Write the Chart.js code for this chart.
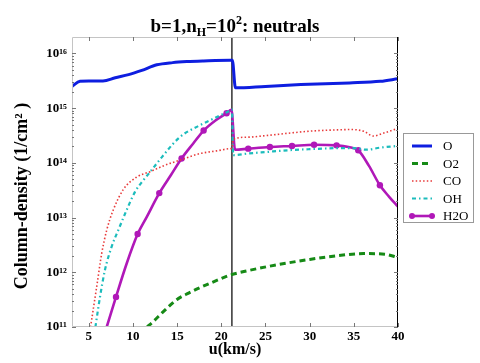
<!DOCTYPE html>
<html>
<head>
<meta charset="utf-8">
<script src="https://cdn.jsdelivr.net/npm/chart.js@4.4.0/dist/chart.umd.min.js"></script>
<style>
  html, body { margin: 0; padding: 0; background: #fff; }
</style>
</head>
<body>
<canvas id="chart" width="480" height="363"></canvas>
<script>
// shock velocity u (km/s) and column densities (1/cm^2)
const uO = [3.1, 4.0, 5.0, 6.6, 8.0, 9.5, 11.0, 12.7, 14.5, 16.1, 18.0, 21.0, 21.25, 21.6, 25, 29, 34.5, 38, 40];
const nO = [2.5e15, 3.1e15, 3.15e15, 3.15e15, 3.6e15, 4.1e15, 4.9e15, 6.2e15, 6.8e15, 7.1e15, 7.3e15, 7.5e15, 7.5e15, 2.35e15, 2.5e15, 2.7e15, 2.9e15, 3.1e15, 3.45e15];

const uO2 = [11.6, 12.3, 13.5, 14.95, 16.3, 17.6, 19.3, 21.0, 23.0, 25.1, 27.5, 30, 33, 36.1, 38.5, 40];
const nO2 = [1.0e11, 1.26e11, 1.95e11, 3.16e11, 4.17e11, 5.25e11, 6.9e11, 8.9e11, 1.07e12, 1.26e12, 1.48e12, 1.72e12, 2.0e12, 2.2e12, 2.14e12, 1.86e12];

const uCO = [5.2, 5.9, 6.46, 7.03, 7.77, 8.9, 10.42, 11.93, 13.5, 15.3, 17.6, 19.5, 21.0, 21.2, 21.35, 23, 25.1, 27.5, 30, 32.5, 34.6, 36.1, 37.2, 38.5, 40];
const nCO = [1.0e11, 5.5e11, 2.2e12, 5.9e12, 1.38e13, 3.24e13, 5.5e13, 6.9e13, 8.9e13, 1.12e14, 1.48e14, 1.66e14, 1.82e14, 1.86e14, 2.7e14, 2.95e14, 3.16e14, 3.47e14, 3.8e14, 3.98e14, 4.07e14, 3.8e14, 3.1e14, 3.55e14, 4.27e14];

const uOH = [5.75, 6.27, 6.83, 7.59, 8.34, 9.29, 10.23, 11.17, 11.93, 12.7, 15.3, 17.6, 19.5, 21.0, 21.2, 21.35, 23, 25.1, 27.5, 30, 33.4, 35, 36.4, 38, 40];
const nOH = [1.0e11, 3.55e11, 1.1e12, 2.95e12, 5.9e12, 1.38e13, 2.95e13, 4.8e13, 6.8e13, 9.8e13, 2.95e14, 4.9e14, 6.9e14, 9.1e14, 9.5e14, 1.38e14, 1.48e14, 1.58e14, 1.7e14, 1.78e14, 1.86e14, 1.86e14, 1.74e14, 1.9e14, 2.04e14];

const uH2O = [7.03, 8.08, 9.29, 10.53, 11.55, 12.98, 14.3, 15.5, 16.8, 18.0, 19.3, 20.6, 21.15, 21.55, 23.05, 25.5, 28.0, 30.5, 33.05, 34.4, 35.5, 36.7, 37.95, 39, 40];
const nH2O = [1.0e11, 3.55e11, 1.45e12, 5.0e12, 1.02e13, 2.8e13, 6.0e13, 1.2e14, 2.24e14, 3.9e14, 5.9e14, 8.1e14, 9.3e14, 1.74e14, 1.82e14, 1.95e14, 2.04e14, 2.14e14, 2.09e14, 1.95e14, 1.7e14, 8.9e13, 3.9e13, 2.4e13, 1.58e13];
const markH2O = [0, 1, 0, 1, 0, 1, 0, 1, 0, 1, 0, 1, 0, 0, 1, 1, 1, 1, 1, 0, 1, 0, 1, 0, 0]; // sampled points with markers

const shockU = 21.2;
const xMin = 3.1, xMax = 40;
const yMin = 1e11, yMax = 2e16;
const xTicks = [5, 10, 15, 20, 25, 30, 35, 40];
const yDecades = [11, 12, 13, 14, 15, 16];

const SERIF = '"Liberation Serif", "DejaVu Serif", serif';
const SUP = { '0': '⁰', '1': '¹', '2': '²', '3': '³', '4': '⁴', '5': '⁵', '6': '⁶', '7': '⁷', '8': '⁸', '9': '⁹' };
const toSup = s => String(s).split('').map(c => SUP[c]).join('');

const pts = (xs, ys) => xs.map((x, i) => ({ x: x, y: ys[i] }));

const datasets = [
  { label: 'O', data: pts(uO, nO), borderColor: '#0e1ee0', borderWidth: 3, pointRadius: 0 },
  { label: 'O2', data: pts(uO2, nO2), borderColor: '#168a16', borderWidth: 3, borderDash: [6, 4], pointRadius: 0 },
  { label: 'CO', data: pts(uCO, nCO), borderColor: '#e83a3a', borderWidth: 1.6, borderDash: [1.5, 2.2], pointRadius: 0 },
  { label: 'OH', data: pts(uOH, nOH), borderColor: '#1cbcbc', borderWidth: 2.2, borderDash: [4, 3, 1.5, 3], pointRadius: 0 },
  {
    label: 'H2O', data: pts(uH2O, nH2O), borderColor: '#b018b8', backgroundColor: '#b018b8',
    borderWidth: 2.6, pointRadius: markH2O.map(m => m ? 3.2 : 0), pointBorderWidth: 0
  },
  // the shock position marker
  { label: '', data: [{ x: shockU, y: yMin }, { x: shockU, y: yMax }], borderColor: '#111', borderWidth: 1.3, pointRadius: 0, tension: 0, cubicInterpolationMode: 'default' }
];

const decor = {
  id: 'decor',
  afterDraw(chart) {
    const ctx = chart.ctx;
    const a = chart.chartArea;
    const xs = chart.scales.x, ys = chart.scales.y;
    ctx.save();

    // frame
    ctx.lineWidth = 1;
    ctx.strokeStyle = '#c4c4c4';
    ctx.beginPath();
    ctx.moveTo(a.right, a.top + 0.5); ctx.lineTo(a.left + 0.5, a.top + 0.5);
    ctx.lineTo(a.left + 0.5, a.bottom - 0.5); ctx.lineTo(a.right, a.bottom - 0.5);
    ctx.stroke();
    ctx.strokeStyle = '#000';
    ctx.beginPath();
    ctx.moveTo(a.right - 0.5, a.top); ctx.lineTo(a.right - 0.5, a.bottom);
    ctx.stroke();

    // inner tick marks
    ctx.strokeStyle = '#777';
    ctx.beginPath();
    xTicks.forEach(v => {
      const px = Math.round(xs.getPixelForValue(v)) + 0.5;
      ctx.moveTo(px, a.bottom); ctx.lineTo(px, a.bottom - 4);
      ctx.moveTo(px, a.top); ctx.lineTo(px, a.top + 4);
    });
    ys.ticks.forEach(t => {
      const py = Math.round(ys.getPixelForValue(t.value)) + 0.5;
      const len = t.major ? 4 : 2;
      ctx.moveTo(a.left, py); ctx.lineTo(a.left + len, py);
      ctx.moveTo(a.right, py); ctx.lineTo(a.right - len, py);
    });
    ctx.stroke();

    // title with sub/superscript
    const parts = [
      { t: 'b=1,n', f: 19, dy: 0 }, { t: 'H', f: 12, dy: 4 },
      { t: '=10', f: 19, dy: 0 }, { t: '2', f: 12, dy: -8 },
      { t: ': neutrals', f: 19, dy: 0 }
    ];
    let w = 0;
    parts.forEach(p => { ctx.font = 'bold ' + p.f + 'px ' + SERIF; p.w = ctx.measureText(p.t).width; w += p.w; });
    let x = (a.left + a.right) / 2 - w / 2;
    ctx.fillStyle = '#000';
    ctx.textBaseline = 'alphabetic';
    ctx.textAlign = 'left';
    parts.forEach(p => { ctx.font = 'bold ' + p.f + 'px ' + SERIF; ctx.fillText(p.t, x, 32 + p.dy); x += p.w; });

    // y axis label
    ctx.save();
    ctx.translate(22, 196);
    ctx.rotate(-Math.PI / 2);
    ctx.font = 'bold 18px ' + SERIF;
    ctx.textAlign = 'center';
    ctx.textBaseline = 'middle';
    ctx.fillText('Column-density (1/cm² )', 0, 0);
    ctx.restore();

    // legend
    const lx = 403, ly = 133, lw = 70, lh = 89;
    ctx.fillStyle = '#fff';
    ctx.fillRect(lx, ly, lw, lh);
    ctx.strokeStyle = '#999';
    ctx.lineWidth = 1;
    ctx.strokeRect(lx + 0.5, ly + 0.5, lw, lh);
    ctx.font = '13px ' + SERIF;
    ctx.textBaseline = 'middle';
    chart.data.datasets.filter(d => d.label).forEach((d, i) => {
      const y = ly + 13 + i * 17.5;
      ctx.strokeStyle = d.borderColor;
      ctx.lineWidth = d.borderWidth;
      ctx.setLineDash(d.borderDash || []);
      ctx.beginPath(); ctx.moveTo(412, y); ctx.lineTo(432, y); ctx.stroke();
      ctx.setLineDash([]);
      if (d.label === 'H2O') {
        ctx.fillStyle = d.backgroundColor;
        [412, 432].forEach(px => { ctx.beginPath(); ctx.arc(px, y, 3, 0, Math.PI * 2); ctx.fill(); });
      }
      ctx.fillStyle = '#000';
      ctx.fillText(d.label, 443, y + 1);
    });
    ctx.restore();
  }
};

new Chart(document.getElementById('chart'), {
  type: 'line',
  data: { datasets: datasets },
  options: {
    responsive: false,
    animation: false,
    layout: { padding: { left: 0, right: 82, top: 37, bottom: 0 } },
    plugins: { legend: { display: false }, tooltip: { enabled: false } },
    elements: { line: { cubicInterpolationMode: 'monotone' } },
    scales: {
      x: {
        type: 'linear', min: xMin, max: xMax,
        afterBuildTicks: s => { s.ticks = xTicks.map(v => ({ value: v })); },
        afterFit: s => { s.height = 36; },
        grid: { display: false, drawTicks: false },
        border: { display: false },
        ticks: { color: '#000', padding: 2, font: { family: SERIF, size: 13, weight: 'bold' } },
        title: { display: true, text: 'u(km/s)', color: '#000', padding: { top: 0, bottom: 4 }, font: { family: SERIF, size: 16, weight: 'bold' } }
      },
      y: {
        type: 'logarithmic', min: yMin, max: yMax,
        afterBuildTicks: s => {
          const t = [];
          yDecades.forEach(e => {
            t.push({ value: Math.pow(10, e), major: true });
            if (e < 16) for (let m = 2; m <= 9; m++) t.push({ value: m * Math.pow(10, e), major: false });
          });
          s.ticks = t;
        },
        afterFit: s => { s.width = 72; },
        grid: { display: false, drawTicks: false },
        border: { display: false },
        ticks: {
          autoSkip: false, color: '#000', padding: 5,
          font: { family: SERIF, size: 13, weight: 'bold' },
          callback: v => {
            const e = Math.log10(v);
            return Math.abs(e - Math.round(e)) < 1e-6 ? '10' + toSup(Math.round(e)) : '';
          }
        }
      }
    }
  },
  plugins: [decor]
});
</script>
</body>
</html>
